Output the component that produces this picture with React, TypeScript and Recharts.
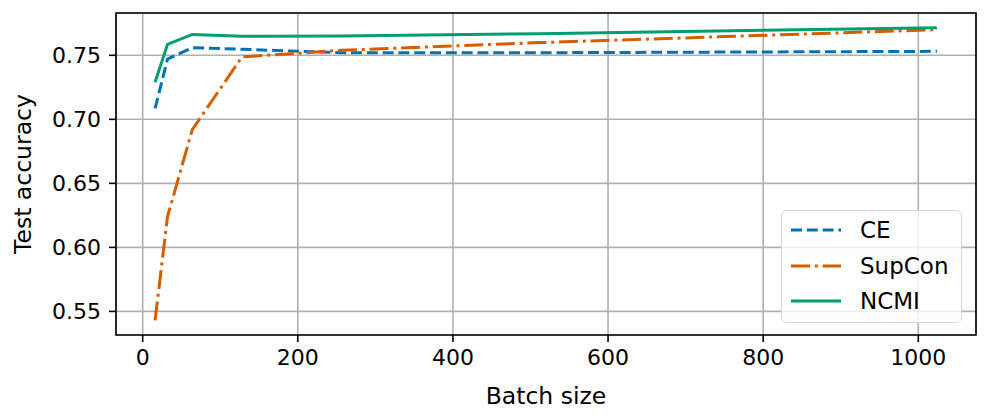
import React from 'react';
import {
  LineChart,
  Line,
  XAxis,
  YAxis,
  CartesianGrid,
  ReferenceArea,
  Label,
} from 'recharts';

// batch sizes on the x axis
const batchSizes = [16, 32, 64, 128, 256, 512, 1024];

// test accuracy per loss
const ceAcc = [0.7085, 0.747, 0.756, 0.7547, 0.752, 0.752, 0.7531];
const supconAcc = [0.543, 0.624, 0.692, 0.7487, 0.7539, 0.7599, 0.770];
const ncmiAcc = [0.729, 0.7586, 0.7663, 0.7648, 0.765, 0.7669, 0.7716];

const xTicks = [0, 200, 400, 600, 800, 1000];
const yTicks = [0.55, 0.6, 0.65, 0.7, 0.75];

const seriesInfo = [
  { key: 'ce', name: 'CE', color: '#0173b2', dash: '11 4.8' },
  { key: 'supcon', name: 'SupCon', color: '#d55e00', dash: '19 4.8 3 4.8' },
  { key: 'ncmi', name: 'NCMI', color: '#029e73', dash: undefined },
];

const rows = batchSizes.map((b, i) => ({
  batch: b,
  ce: ceAcc[i],
  supcon: supconAcc[i],
  ncmi: ncmiAcc[i],
}));

// matplotlib-style 5% margins
const allY = [...ceAcc, ...supconAcc, ...ncmiAcc];
const yLo = Math.min(...allY);
const yHi = Math.max(...allY);
const yPad = (yHi - yLo) * 0.05;
const yDomain: [number, number] = [yLo - yPad, yHi + yPad];
const xPad = (batchSizes[batchSizes.length - 1] - batchSizes[0]) * 0.05;
const xDomain: [number, number] = [batchSizes[0] - xPad, batchSizes[batchSizes.length - 1] + xPad];

const font = '"DejaVu Sans", sans-serif';
const tickStyle = { fontSize: 22, fill: '#000', fontFamily: font };
const labelStyle = { fontSize: 23.5, fill: '#000', fontFamily: font };

const Legendbox = () => (
  <div
    style={{
      position: 'absolute',
      left: 781,
      top: 210,
      width: 181,
      height: 113,
      boxSizing: 'border-box',
      border: '1.5px solid #d6d6d6',
      borderRadius: 6,
      background: 'rgba(255,255,255,0.8)',
      fontFamily: font,
      fontSize: 23,
    }}
  >
    {seriesInfo.map((s, i) => (
      <div
        key={s.key}
        style={{ position: 'absolute', left: 0, top: 19 + i * 35.5 - 14, height: 28, display: 'flex', alignItems: 'center' }}
      >
        <svg width={70} height={28} style={{ display: 'block' }}>
          <line x1={9} x2={59} y1={14} y2={14} stroke={s.color} strokeWidth={3} strokeDasharray={s.dash} />
        </svg>
        <span style={{ marginLeft: 8, color: '#000', lineHeight: '28px' }}>{s.name}</span>
      </div>
    ))}
  </div>
);

export default function App() {
  return (
    <div style={{ position: 'absolute', left: 0, top: 0, width: 997, height: 418, background: '#fff' }}>
      <LineChart width={997} height={418} data={rows} margin={{ top: 13, right: 21, left: 0, bottom: 0 }}>
        <CartesianGrid stroke="#b0b0b0" strokeWidth={1.6} />
        <XAxis
          dataKey="batch"
          type="number"
          domain={xDomain}
          ticks={xTicks}
          allowDataOverflow
          axisLine={false}
          tickLine={{ stroke: '#000', strokeWidth: 1.6 }}
          tickSize={7}
          tickMargin={7}
          tick={tickStyle}
          height={83}
        >
          <Label value="Batch size" position="insideBottom" offset={14} style={labelStyle} />
        </XAxis>
        <YAxis
          type="number"
          domain={yDomain}
          ticks={yTicks}
          allowDataOverflow
          axisLine={false}
          tickLine={{ stroke: '#000', strokeWidth: 1.6 }}
          tickSize={7}
          tickMargin={8}
          tick={tickStyle}
          tickFormatter={(v: number) => v.toFixed(2)}
          width={116}
        >
          <Label
            content={(p: any) => {
              const vb = p.viewBox || { y: 13, height: 322 };
              const cy = vb.y + vb.height / 2;
              return (
                <text
                  x={31}
                  y={cy}
                  transform={`rotate(-90 31 ${cy})`}
                  textAnchor="middle"
                  style={labelStyle}
                >
                  Test accuracy
                </text>
              );
            }}
          />
        </YAxis>
        {seriesInfo.map((s) => (
          <Line
            key={s.key}
            type="linear"
            dataKey={s.key}
            name={s.name}
            stroke={s.color}
            strokeWidth={3}
            strokeDasharray={s.dash}
            dot={false}
            activeDot={false}
            isAnimationActive={false}
          />
        ))}
        <ReferenceArea
          x1={xDomain[0]}
          x2={xDomain[1]}
          y1={yDomain[0]}
          y2={yDomain[1]}
          fill="none"
          fillOpacity={0}
          stroke="#000"
          strokeWidth={1.6}
          ifOverflow="visible"
        />
      </LineChart>
      <Legendbox />
    </div>
  );
}
